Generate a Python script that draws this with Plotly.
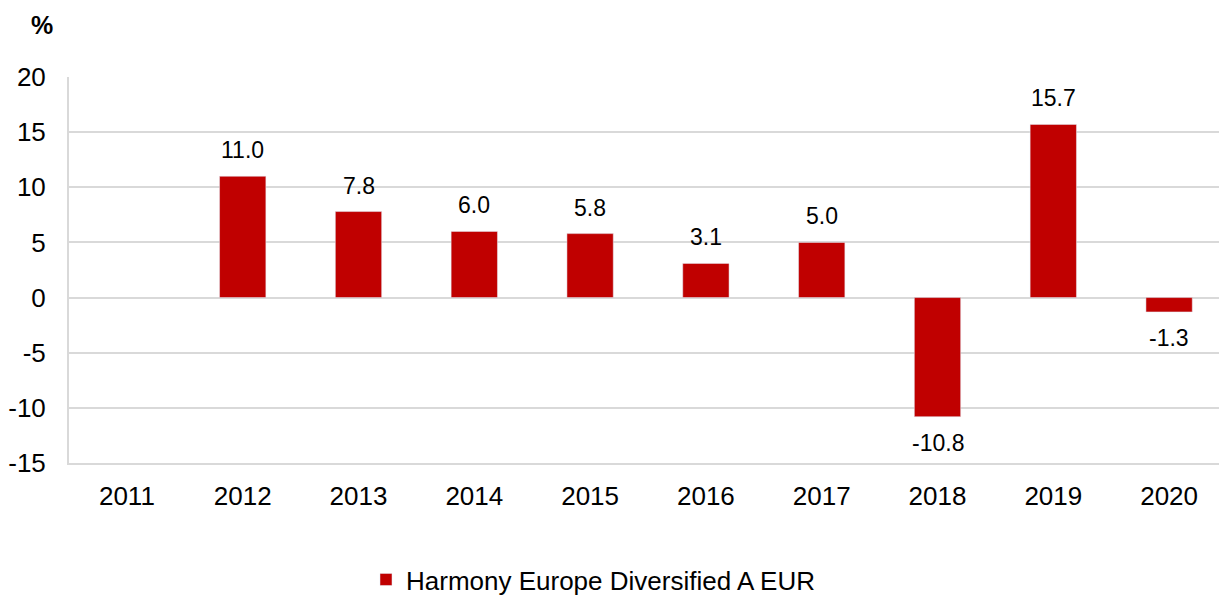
import plotly.graph_objects as go

years = ["2011", "2012", "2013", "2014", "2015", "2016", "2017", "2018", "2019", "2020"]
values = [None, 11.0, 7.8, 6.0, 5.8, 3.1, 5.0, -10.8, 15.7, -1.3]
series_name = "Harmony Europe Diversified A EUR"
y_ticks = [-15, -10, -5, 0, 5, 10, 15, 20]
y_tick_text = ["-15", "-10", "-5", "0", "5", "10", "15", "20"]

FONT = "Liberation Sans, Arial, sans-serif"
RED = "#C00000"

fig = go.Figure()
fig.add_trace(go.Bar(
    x=years, y=values, name=series_name, marker_color=RED,
    width=0.4, showlegend=True,
))

for i, (yr, v) in enumerate(zip(years, values)):
    if v is None:
        continue
    fig.add_annotation(
        x=i, y=v, text=f"{v:.1f}", showarrow=False,
        yanchor="middle", yshift=26 if v >= 0 else -26,
        font=dict(family=FONT, size=23, color="#000"),
    )

fig.add_annotation(
    xref="paper", yref="paper", x=-0.0233, y=1.1347, text="<b>%</b>",
    showarrow=False, xanchor="center", yanchor="middle",
    font=dict(family=FONT, size=25, color="#000"),
)

# page body has an 8px margin; figure sized/offset so plot area spans x 69..1227, y 77..463
fig.update_layout(
    width=1219, height=588,
    margin=dict(l=61, r=0, t=69, b=133, autoexpand=False),
    paper_bgcolor="white", plot_bgcolor="white",
    font=dict(family=FONT, size=26, color="#000"),
    bargap=0.6,
    legend=dict(orientation="h", x=0.4525, xanchor="center", y=-0.302, yanchor="middle",
                itemwidth=30,
                font=dict(family=FONT, size=26, color="#000")),
    xaxis=dict(
        type="category", categoryorder="array", categoryarray=years,
        showgrid=False, showline=True, linecolor="#d9d9d9", linewidth=2,
        ticks="", ticklabelstandoff=9, tickfont=dict(size=26), automargin=False,
    ),
    yaxis=dict(
        range=[-15, 20], tickvals=y_ticks, ticktext=y_tick_text,
        showgrid=True, gridcolor="#d9d9d9", gridwidth=2,
        zeroline=True, zerolinecolor="#d9d9d9", zerolinewidth=2,
        showline=True, linecolor="#d9d9d9", linewidth=2, ticks="",
        ticklabelstandoff=16, tickfont=dict(size=26), automargin=False,
    ),
)

fig.write_html("out.html")
